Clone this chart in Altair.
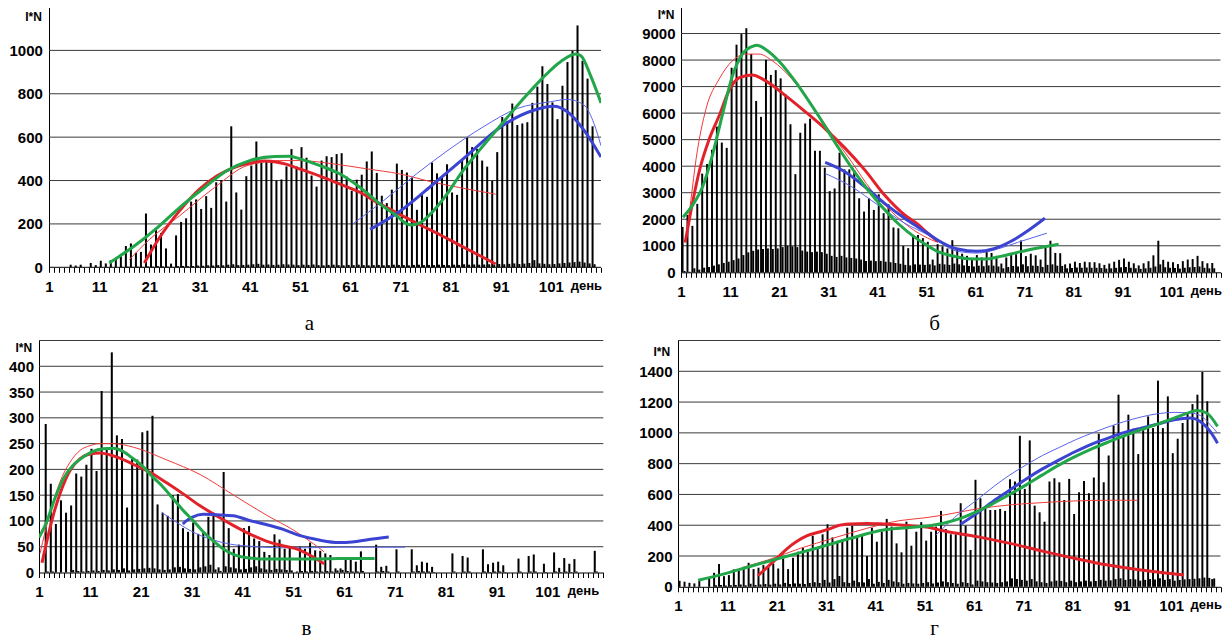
import altair as alt
import pandas as pd

# ---------------- data ----------------
# panel а : days 1..110
a_main = [0, 0, 0, 0, 12, 8, 12, 0, 20, 10,
          30, 18, 33, 35, 62, 98, 110, 67, 71, 248,
          105, 178, 158, 87, 17, 147, 209, 226, 303, 313,
          269, 328, 274, 392, 402, 303, 650, 345, 266, 420,
          469, 580, 481, 490, 495, 400, 405, 465, 545, 465,
          554, 505, 423, 372, 492, 512, 508, 522, 526, 418,
          353, 404, 427, 488, 534, 435, 330, 296, 358, 478,
          449, 437, 413, 265, 342, 325, 483, 433, 418, 475,
          345, 334, 492, 598, 554, 546, 492, 464, 399, 531,
          693, 673, 755, 656, 663, 669, 758, 833, 927, 845,
          760, 683, 837, 946, 998, 1115, 952, 870, 650, 0]
a_sec = [0, 0, 0, 0, 0, 0, 0, 0, 0, 0,
         0, 0, 0, 0, 2, 3, 2, 3, 2, 4,
         3, 5, 4, 3, 2, 5, 6, 5, 6, 8,
         7, 9, 8, 10, 9, 12, 14, 10, 11, 12,
         14, 16, 12, 13, 11, 12, 14, 13, 12, 10,
         12, 11, 13, 10, 9, 11, 12, 10, 9, 11,
         10, 12, 10, 9, 10, 11, 9, 10, 12, 11,
         10, 9, 11, 12, 10, 11, 10, 12, 11, 10,
         12, 11, 14, 12, 13, 12, 13, 14, 12, 15,
         14, 16, 18, 15, 17, 20, 33, 18, 16, 14,
         15, 18, 20, 22, 24, 26, 22, 18, 14, 0]
a_red_thick = [(20, 20), (23, 136), (27, 260), (31, 360), (34.5, 422), (38, 461), (42, 484), (44, 490),
               (48, 477), (51, 453), (55, 420), (59, 383), (63, 345), (67, 291), (71, 243), (75, 195),
               (79, 149), (83, 100), (87, 52), (90, 15)]
a_red_thin = [(17, 35), (21, 128), (27, 237), (34, 368), (40.5, 469), (47, 492), (51, 492), (57.6, 477),
              (64.3, 454), (71, 430), (77.6, 392), (84.3, 361), (90, 337)]
a_green = [(13, 20), (18, 98), (22.6, 183), (27.2, 279), (32, 368), (36.5, 446), (41, 492), (46, 511),
           (49, 512), (51, 500), (55, 469), (59, 430), (63, 368), (67, 291), (70, 242), (73, 195),
           (75, 206), (77.6, 260), (80.3, 337), (83, 430), (87, 546), (91, 655), (95, 763), (99, 864),
           (103, 949), (106, 983), (107, 975), (109, 879), (111, 758)]
a_blue_thick = [(65, 175), (71, 260), (77.6, 384), (84.3, 515), (91, 647), (97.6, 724), (101.6, 742),
                (104.3, 717), (107.6, 632), (111, 508)]
a_blue_thin = [(61.6, 201), (67.6, 306), (74.2, 430), (80.9, 546), (87.5, 647), (94.3, 732), (100.9, 763),
               (104.3, 774), (107.6, 748), (109.6, 663), (111, 560)]

# panel б : days 1..110
b_main = [1710, 2160, 1750, 2580, 3720, 4080, 4620, 5490, 4890, 4690,
          7710, 8580, 8980, 9200, 8230, 6460, 5860, 8010, 7440, 7620,
          7310, 6700, 5580, 3700, 5260, 5610, 5790, 4580, 4580, 3940,
          3060, 3160, 4510, 3880, 3880, 3850, 2790, 2290, 2790, 2350,
          2940, 2230, 2560, 1690, 1660, 1000, 910, 1390, 1410, 1290,
          1150, 480, 1060, 980, 900, 1210, 850, 700, 620, 540,
          650, 560, 800, 730, 620, 330, 560, 700, 680, 1200,
          610, 700, 640, 480, 1000, 1190, 730, 720, 300, 330,
          400, 350, 400, 380, 380, 340, 280, 330, 400, 470,
          520, 400, 340, 260, 340, 420, 640, 1190, 470, 400,
          380, 310, 420, 480, 500, 620, 420, 340, 350, 0]
b_sec = [50, 20, 150, 100, 175, 200, 250, 300, 350, 400,
         460, 520, 650, 750, 810, 860, 880, 900, 880, 900,
         950, 1000, 980, 950, 820, 780, 760, 780, 760, 700,
         620, 580, 620, 560, 540, 520, 480, 430, 440, 420,
         430, 400, 380, 350, 320, 280, 260, 300, 290, 280,
         300, 260, 320, 300, 280, 330, 300, 260, 240, 220,
         250, 230, 260, 250, 220, 150, 200, 240, 220, 300,
         230, 250, 240, 200, 280, 300, 250, 240, 150, 160,
         180, 170, 180, 170, 170, 160, 140, 150, 170, 190,
         200, 170, 150, 130, 150, 170, 220, 300, 190, 170,
         160, 140, 170, 190, 200, 220, 170, 150, 150, 0]
b_red_thick = [(1.85, 1125), (3, 2290), (4.7, 3790), (6.8, 5040), (8.8, 5910), (10.8, 6850), (12.8, 7325),
               (15.5, 7440), (18.2, 7225), (22.3, 6660), (26.3, 6060), (30.4, 5410), (34.4, 4690),
               (38.5, 3850), (42.5, 2910), (46.6, 2160), (49.2, 1820), (51.3, 1475), (53.5, 1150)]
b_red_thin = [(2, 1300), (3, 2700), (4.1, 4300), (6.1, 6160), (8.8, 7290), (11.5, 7975), (14.2, 8225),
              (16.9, 8225), (19.6, 7975), (23.6, 7290), (27.7, 6290), (31.7, 5225), (35.8, 4160),
              (39.8, 3100), (43.9, 2290), (47.9, 1660), (51.3, 1290), (53, 1150)]
b_green = [(1.4, 2075), (3.4, 2540), (5.4, 3225), (7.4, 4410), (9.4, 5910), (11.5, 7410), (13.5, 8225),
           (15.5, 8510), (16.5, 8560), (18.2, 8410), (20.9, 7975), (24.9, 7040), (29, 5910), (33, 4725),
           (37.1, 3600), (41.1, 2660), (45.2, 1850), (49.2, 1250), (51.3, 1000), (53.3, 790), (57.4, 575),
           (59.4, 510), (62.8, 500), (66.2, 600), (69.6, 750), (73, 890), (76.3, 1000), (78, 1060)]
b_blue_thick = [(30.4, 4140), (34.4, 3790), (38.5, 3225), (42.5, 2600), (46.6, 2040), (49.2, 1720),
                (51.2, 1480), (53.3, 1220), (57.4, 875), (61.4, 790), (64.8, 890), (68.2, 1160),
                (71.5, 1540), (75.2, 2040)]
b_blue_thin = [(30.4, 3725), (35.8, 3225), (41.1, 2540), (46.6, 1850), (51.3, 1410), (53.3, 1180),
               (57.4, 790), (61.4, 725), (65.5, 875), (69.6, 1125), (75.6, 1475)]

# panel в : days 1..111
c_main = [0, 288, 172, 94, 140, 116, 130, 192, 186, 209,
          240, 197, 352, 239, 427, 266, 259, 126, 223, 219,
          272, 275, 304, 132, 116, 110, 150, 152, 86, 79,
          97, 75, 80, 108, 116, 10, 195, 86, 46, 54,
          86, 90, 66, 61, 40, 34, 74, 64, 46, 48,
          0, 50, 46, 58, 43, 42, 37, 34, 8, 8,
          30, 26, 21, 41, 0, 0, 54, 11, 13, 0,
          45, 0, 0, 45, 14, 21, 19, 11, 0, 0,
          0, 37, 0, 32, 29, 0, 0, 45, 16, 19,
          21, 14, 0, 0, 27, 0, 32, 35, 0, 17,
          0, 39, 9, 28, 17, 26, 0, 0, 0, 42, 0]
c_sec = [0, 2, 2, 0, 0, 0, 5, 3, 2, 3,
         4, 3, 5, 4, 6, 5, 8, 4, 6, 7,
         8, 9, 8, 6, 5, 6, 10, 11, 8, 7,
         6, 10, 12, 15, 6, 3, 12, 10, 8, 6,
         7, 10, 12, 8, 6, 5, 7, 6, 5, 4,
         2, 3, 2, 3, 2, 2, 3, 2, 4, 5,
         3, 2, 2, 3, 0, 0, 2, 3, 2, 0,
         2, 0, 0, 2, 3, 2, 2, 1, 0, 0,
         0, 2, 0, 2, 2, 0, 0, 2, 1, 2,
         2, 1, 0, 0, 2, 0, 2, 2, 0, 1,
         0, 2, 1, 2, 1, 2, 0, 0, 0, 2, 0]
c_red_thick = [(1.6, 19), (2.5, 59), (3.8, 111), (5.5, 163), (7.1, 198), (9.1, 221), (11, 230), (13, 232),
               (15, 228), (16.9, 222), (19.5, 210), (22.9, 194), (26.1, 174), (29.3, 153), (32.6, 130),
               (35.9, 110), (39.1, 92), (42.4, 75), (45.7, 61), (48.9, 52), (52.2, 44), (54.2, 34),
               (57.1, 17)]
c_red_thin = [(1.2, 37), (3.2, 117), (5.1, 175), (7.1, 214), (9.1, 237), (11, 246), (13, 250), (15.6, 250),
              (19.6, 243), (26.2, 218), (32.7, 190), (39.3, 150), (45.8, 111), (51.1, 82), (54.4, 60),
              (57.1, 40)]
c_green = [(1, 68), (2.5, 98), (4.1, 143), (5.8, 182), (7.7, 208), (9.7, 224), (11.6, 235), (13.6, 240),
           (15.6, 241), (17.5, 235), (19.5, 221), (21.5, 205), (23.4, 185), (25.4, 166), (27.4, 143),
           (29.3, 121), (31.3, 101), (33.3, 79), (35.3, 61), (37.2, 46), (39.2, 35), (42.4, 28),
           (45.7, 26), (50, 26), (55, 26), (60, 27), (67, 27)]
c_blue_thick = [(29.3, 94), (30.1, 101), (31.3, 108), (33.3, 113), (35.9, 112), (39.2, 110), (42.4, 101),
                (45.7, 93), (48.9, 84), (52.2, 72), (56.1, 63), (60, 58), (62.6, 59), (65.9, 64), (69.8, 69)]
c_blue_thin = [(25.1, 117), (28.1, 97), (32, 75), (35.3, 63), (38.6, 55), (42.5, 51), (48.4, 48),
               (53.6, 48), (60, 49), (66, 49), (73, 49)]

# panel г : days 1..110
d_main = [39, 33, 26, 22, 43, 0, 54, 91, 148, 69,
          76, 113, 115, 124, 156, 115, 124, 141, 130, 152,
          119, 184, 115, 189, 228, 254, 228, 332, 250, 341,
          406, 321, 289, 306, 384, 397, 332, 336, 200, 384,
          293, 358, 441, 391, 282, 224, 423, 267, 358, 420,
          300, 358, 391, 493, 375, 341, 341, 543, 397, 239,
          695, 575, 521, 499, 499, 506, 493, 699, 684, 981,
          636, 951, 527, 484, 423, 684, 705, 679, 564, 701,
          473, 614, 688, 608, 710, 994, 679, 853, 1048, 1248,
          977, 1118, 1027, 862, 1024, 1107, 1031, 1339, 1031, 1237,
          868, 962, 1064, 1135, 1187, 1248, 1396, 1205, 50, 0]
d_sec = [0, 0, 0, 0, 0, 0, 0, 10, 12, 8,
         10, 12, 15, 10, 20, 12, 15, 18, 14, 20,
         15, 25, 18, 22, 20, 18, 25, 30, 25, 45,
         28, 50, 70, 30, 25, 40, 30, 28, 50, 20,
         32, 25, 45, 35, 30, 20, 25, 22, 20, 25,
         30, 22, 28, 35, 30, 25, 20, 30, 25, 15,
         40, 35, 30, 28, 25, 30, 35, 55, 50, 45,
         40, 50, 35, 30, 25, 35, 40, 38, 30, 40,
         30, 35, 40, 35, 38, 45, 40, 42, 50, 55,
         45, 50, 48, 40, 45, 50, 48, 55, 45, 50,
         40, 45, 48, 50, 52, 55, 60, 58, 54, 0]
d_red_thick = [(17.2, 72), (19.2, 130), (21.2, 189), (23.2, 250), (25.2, 297), (27.2, 332), (29.4, 354),
               (31.4, 373), (33.4, 397), (36, 408), (39.3, 412), (42.7, 408), (46, 402), (49.3, 393),
               (51.3, 389), (55, 362), (61.6, 326), (68.3, 282), (74.9, 232), (81.6, 184), (88.2, 141),
               (94.9, 109), (103.6, 76)]
d_red_thin = [(14, 125), (19.2, 174), (25.8, 250), (32.4, 315), (39.3, 380), (46, 430), (51.3, 449),
              (55, 467), (61.6, 506), (68.3, 532), (74.9, 547), (81.6, 558), (88.2, 562), (94.2, 562)]
d_green = [(5.1, 43), (9.4, 76), (16.1, 137), (22.7, 195), (29.4, 254), (36, 315), (42.7, 369), (46, 380),
           (49.3, 388), (52, 397), (55, 415), (58.3, 445), (61.6, 488), (65, 543), (68.3, 601), (71.6, 662),
           (74.9, 727), (78.3, 792), (81.6, 847), (84.9, 896), (88.2, 940), (91.6, 983), (94.9, 1020),
           (98.2, 1057), (101.6, 1096), (104.9, 1135), (106.2, 1146), (108.2, 1129), (110.4, 1042)]
d_blue_thick = [(58.3, 406), (61.6, 477), (65, 558), (68.3, 629), (71.6, 701), (74.9, 766), (78.3, 825),
                (81.6, 879), (84.9, 927), (88.2, 966), (91.6, 1003), (94.9, 1031), (98.2, 1057),
                (101.6, 1085), (104.9, 1096), (106.9, 1074), (108.9, 1009), (110.4, 933)]
d_blue_thin = [(53.3, 336), (58.3, 484), (61.6, 564), (65, 651), (68.3, 727), (71.6, 792), (74.9, 853),
               (78.3, 905), (81.6, 955), (84.9, 998), (88.2, 1038), (91.6, 1074), (94.9, 1103),
               (98.2, 1124), (101.6, 1133), (104.9, 1129), (106.9, 1113), (108.9, 1053), (110.4, 998)]

# axis tick labels / texts
a_yticks = [0, 200, 400, 600, 800, 1000]
a_grid = [200, 400, 600, 800, 1000, 1200]
b_yticks = [0, 1000, 2000, 3000, 4000, 5000, 6000, 7000, 8000, 9000]
b_grid = [1000, 2000, 3000, 4000, 5000, 6000, 7000, 8000, 9000, 10000]
c_yticks = [0, 50, 100, 150, 200, 250, 300, 350, 400]
c_grid = [50, 100, 150, 200, 250, 300, 350, 400, 450]
d_yticks = [0, 200, 400, 600, 800, 1000, 1200, 1400]
d_grid = [200, 400, 600, 800, 1000, 1200, 1400, 1600]
letters = ["а", "б", "в", "г"]
y_title = "I*N"
day_word = "день"

# ---------------- styling ----------------
FONT = "Liberation Sans"
SERIF = "Liberation Serif"
RED = "#e2222a"
RED_T = "#f03a3a"
GREEN = "#21a64a"
BLUE = "#3b43d2"
BLUE_T = "#5a63e8"
GRID = "#3a3a3a"

# small negative top padding trims empty space above the first row (fallback 0)
try:
    alt.Chart(pd.DataFrame({"q": [1]})).mark_point().encode(x="q:Q").properties(
        padding={"top": -2, "bottom": 0, "left": 0, "right": 0}).to_dict()
    TOP_PAD = -2
except Exception:
    TOP_PAD = 0
ROW1_TOP = 13 + 2 * TOP_PAD


def make_panel(main, sec, curves, xmin, xmax, ymax, w, h, yticks, grid, letter, lx, ly, tx, ty,
               ypad, yoff=0, baseline=False):
    xs = alt.Scale(domain=[xmin, xmax], nice=False, zero=False)
    ys = alt.Scale(domain=[0, ymax], nice=False, zero=False)
    label_expr = ("datum.value == 108 ? '" + day_word + "' : "
                  "((datum.value % 10 == 1 && datum.value <= 101) ? datum.label : '')")
    xaxis = alt.Axis(values=list(range(1, xmax + 1)), format="d", labelExpr=label_expr, labelAngle=0,
                     labelFont=FONT, labelFontWeight="bold",
                     labelFontSize={"condition": {"test": "datum.value == 108", "value": 13}, "value": 15},
                     labelColor="black", labelPadding=7, labelFlush=False, labelOverlap=False,
                     labelBound=False, tickSize=5, tickColor="black", tickWidth=1,
                     domain=not baseline, domainColor="black", domainWidth=1, grid=False, minExtent=0,
                     title=letter, titleFont=SERIF, titleFontSize=21, titleFontWeight="normal",
                     titleColor="black", titleX=lx, titleY=ly, titleAlign="center",
                     titleBaseline="alphabetic", titleAngle=0)
    yaxis = alt.Axis(values=yticks, format="d", labelFont=FONT, labelFontWeight="bold", labelFontSize=15,
                     labelColor="black", labelPadding=ypad, ticks=False, tickSize=0, offset=yoff,
                     domainColor="black", domainWidth=1, grid=False, labelFlush=False,
                     labelOverlap=False, minExtent=0,
                     title=y_title, titleFont=FONT, titleFontSize=12, titleFontWeight="bold",
                     titleAngle=0, titleX=tx, titleY=ty, titleAlign="center", titleBaseline="middle",
                     titleColor="black")

    days = list(range(1, len(main) + 1))
    df = pd.DataFrame({"day": days, "v": main, "s": sec})
    gdf = pd.DataFrame({"g": grid, "x0": 1, "x1": xmax})

    # every layer carries the identical axis definition so the shared axis is kept
    layers = [alt.Chart(gdf).mark_rule(color=GRID, strokeWidth=1).encode(
        x=alt.X("x0:Q", scale=xs, axis=xaxis), x2="x1:Q",
        y=alt.Y("g:Q", scale=ys, axis=yaxis))]
    if baseline:
        bdf = pd.DataFrame({"g": [0], "x0": [1], "x1": [xmax]})
        layers.append(alt.Chart(bdf).mark_rule(color="black", strokeWidth=1).encode(
            x=alt.X("x0:Q", scale=xs, axis=xaxis), x2="x1:Q",
            y=alt.Y("g:Q", scale=ys, axis=yaxis)))
    layers.append(alt.Chart(df).transform_filter("datum.s > 0").transform_calculate(
        x0="datum.day + 0.52", x1="datum.day + 0.92", z="0").mark_rect(color="black").encode(
        x=alt.X("x0:Q", scale=xs, axis=xaxis), x2="x1:Q",
        y=alt.Y("s:Q", scale=ys, axis=yaxis), y2="z:Q"))
    layers.append(alt.Chart(df).transform_filter("datum.v > 0").transform_calculate(
        x0="datum.day + 0.12", x1="datum.day + 0.52", z="0").mark_rect(color="black").encode(
        x=alt.X("x0:Q", scale=xs, axis=xaxis), x2="x1:Q",
        y=alt.Y("v:Q", scale=ys, axis=yaxis), y2="z:Q"))
    for pts, color, width in curves:
        cdf = pd.DataFrame(pts, columns=["day", "val"])
        layers.append(alt.Chart(cdf).mark_line(color=color, strokeWidth=width, interpolate="monotone",
                                               clip=True).encode(
            x=alt.X("day:Q", scale=xs, axis=xaxis), y=alt.Y("val:Q", scale=ys, axis=yaxis)))
    return alt.layer(*layers).properties(width=w, height=h)


# panel а: plot area starts 10 px left of its y axis so that it lines up with panel в
A_PXDAY = 552 / 110
pa = make_panel(a_main, a_sec,
                [(a_red_thin, RED_T, 1), (a_blue_thin, BLUE_T, 1), (a_red_thick, RED, 3),
                 (a_blue_thick, BLUE, 3), (a_green, GREEN, 3)],
                1 - 10 / A_PXDAY, 111, 1200, 562, 269.3 - ROW1_TOP, a_yticks, a_grid,
                letters[0], 270, 61.7, -16, 9, 6.6, yoff=-10, baseline=True)
pb = make_panel(b_main, b_sec,
                [(b_red_thin, RED_T, 1), (b_blue_thin, BLUE_T, 1), (b_red_thick, RED, 3),
                 (b_blue_thick, BLUE, 3), (b_green, GREEN, 3)],
                1, 111, 10000, 539.5, 274.3 - ROW1_TOP, b_yticks, b_grid,
                letters[1], 253, 56.7, -15.5, 7, 6)
pc = make_panel(c_main, c_sec,
                [(c_red_thin, RED_T, 1), (c_blue_thin, BLUE_T, 1), (c_red_thick, RED, 3),
                 (c_blue_thick, BLUE, 3), (c_green, GREEN, 3)],
                1, 112, 450, 564.3, 232, c_yticks, c_grid,
                letters[2], 267, 62, -15.7, 7, 5.5)
pd_ = make_panel(d_main, d_sec,
                 [(d_red_thin, RED_T, 1), (d_blue_thin, BLUE_T, 1), (d_red_thick, RED, 3),
                  (d_blue_thick, BLUE, 3), (d_green, GREEN, 3)],
                 1, 111, 1600, 542.5, 246.3, d_yticks, d_grid,
                 letters[3], 256, 47.7, -16.7, 10.8, 6)

row1 = alt.hconcat(pa, pb, spacing=39.0)
row2 = alt.hconcat(pc, pd_, spacing=34.0)
chart = alt.vconcat(row1, row2, spacing=6.5).properties(
    padding={"top": TOP_PAD, "bottom": 0, "left": 0, "right": 0},
    background="white").configure_view(stroke=None)

chart.save("out.html", embed_options={"renderer": "svg", "actions": False})
